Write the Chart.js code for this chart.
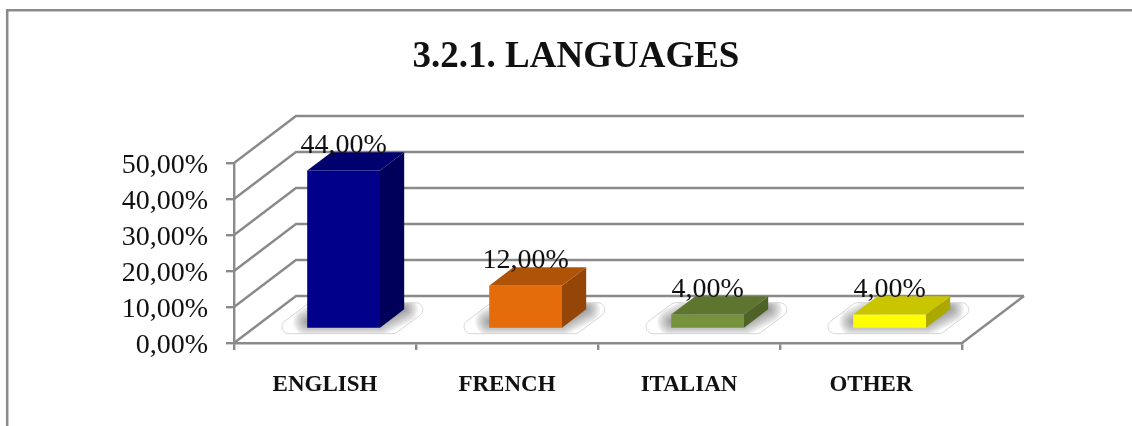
<!DOCTYPE html>
<html>
<head>
<meta charset="utf-8">
<style>
html,body{margin:0;padding:0;background:#fff;}
#wrap{position:relative;width:1132px;height:426px;}
canvas{display:block;}
</style>
<script src="https://cdn.jsdelivr.net/npm/chart.js@4/dist/chart.umd.min.js"></script>
</head>
<body>
<div id="wrap"><canvas id="c" width="1132" height="426"></canvas></div>
<script>
const titleText = "3.2.1. LANGUAGES";
const categories = ["ENGLISH", "FRENCH", "ITALIAN", "OTHER"];
const values = [44, 12, 4, 4];
const valueLabels = ["44,00%", "12,00%", "4,00%", "4,00%"];
const frontColors = ["#00008B", "#E46C0A", "#76923C", "#FFFF00"];
const topColors = ["#00006F", "#AF5308", "#5E752F", "#C9C600"];
const sideColors = ["#00005A", "#954506", "#4F6228", "#ABA900"];
const yTickValues = [0, 10, 20, 30, 40, 50];
const yTickLabels = ["0,00%", "10,00%", "20,00%", "30,00%", "40,00%", "50,00%"];

const FONT = "'Liberation Serif', serif";
const LINE = "#8a8a8a";
const DEPTH = {dx: 62, dy: -47};
const BAR_NEAR = 0.3, BAR_DEPTH = 0.39;

function poly(ctx, pts){
  ctx.beginPath();
  pts.forEach((p,i)=> i ? ctx.lineTo(p[0],p[1]) : ctx.moveTo(p[0],p[1]));
  ctx.closePath();
}
function roundPoly(ctx, pts, r){
  ctx.beginPath();
  const n = pts.length;
  const a = pts[n-1], b = pts[0];
  ctx.moveTo((a[0]+b[0])/2,(a[1]+b[1])/2);
  for(let i=0;i<n;i++){
    const p = pts[i], q = pts[(i+1)%n];
    ctx.arcTo(p[0],p[1],q[0],q[1],r);
  }
  ctx.closePath();
}

const threeD = {
  id: "threeD",
  beforeDraw(chart){
    const ctx = chart.ctx;
    ctx.save();
    ctx.fillStyle = "#fff";
    ctx.fillRect(0,0,chart.width,chart.height);
    ctx.strokeStyle = LINE;
    ctx.lineWidth = 2.5;
    ctx.beginPath();
    ctx.moveTo(7.2,chart.height);
    ctx.lineTo(7.2,10.2);
    ctx.lineTo(chart.width,10.2);
    ctx.stroke();
    ctx.restore();
  },
  beforeDatasetsDraw(chart){
    const ctx = chart.ctx, y = chart.scales.y, x = chart.scales.x;
    const l = x.left, r = x.right, b = y.getPixelForValue(0);
    ctx.save();
    ctx.strokeStyle = LINE;
    ctx.lineWidth = 2.4;
    yTickValues.forEach(v=>{
      const py = y.getPixelForValue(v);
      ctx.beginPath();
      ctx.moveTo(l,py);
      ctx.lineTo(l+DEPTH.dx,py+DEPTH.dy);
      ctx.lineTo(r+DEPTH.dx,py+DEPTH.dy);
      ctx.stroke();
    });
    ctx.beginPath();
    ctx.moveTo(r,b);
    ctx.lineTo(r+DEPTH.dx,b+DEPTH.dy);
    ctx.stroke();
    ctx.restore();
  },
  beforeDatasetDraw(chart, args){
    const ctx = chart.ctx;
    const nx = DEPTH.dx*BAR_NEAR, ny = DEPTH.dy*BAR_NEAR;
    const ddx = DEPTH.dx*BAR_DEPTH, ddy = DEPTH.dy*BAR_DEPTH;
    args.meta.data.forEach((el,i)=>{
      const fl = el.x-el.width/2+nx, fr = el.x+el.width/2+nx;
      const top = el.y+ny, bot = el.base+ny;
      const outline = [[fl-39,bot+6],[fr+15,bot+6],[fr+57,bot-25],[fl+2,bot-25]];
      ctx.save();
      roundPoly(ctx,outline,7);
      ctx.fillStyle="#fff";
      ctx.fill();
      ctx.save();
      ctx.clip();
      ctx.strokeStyle="rgba(50,50,50,0.06)";
      ctx.lineJoin="round";
      poly(ctx,[[fl,bot-6],[fr,bot-6],[fr+ddx,bot+ddy],[fl+ddx,bot+ddy]]);
      for(let w=28;w>=2;w-=3){
        ctx.lineWidth=w;
        ctx.stroke();
      }
      ctx.restore();
      roundPoly(ctx,outline,7);
      ctx.strokeStyle="#d6d6d6";
      ctx.lineWidth=1;
      ctx.stroke();
      ctx.fillStyle=sideColors[i];
      poly(ctx,[[fr,top],[fr+ddx,top+ddy],[fr+ddx,bot+ddy],[fr,bot]]);
      ctx.fill();
      ctx.fillStyle=topColors[i];
      poly(ctx,[[fl,top],[fl+ddx,top+ddy],[fr+ddx,top+ddy],[fr,top]]);
      ctx.fill();
      ctx.restore();
    });
    ctx.save();
    ctx.translate(nx,ny);
  },
  afterDatasetDraw(chart){
    chart.ctx.restore();
  },
  afterDatasetsDraw(chart){
    const ctx = chart.ctx;
    const nx = DEPTH.dx*BAR_NEAR, ny = DEPTH.dy*BAR_NEAR;
    const meta = chart.getDatasetMeta(0);
    ctx.save();
    ctx.font = "28px "+FONT;
    ctx.fillStyle="#111";
    ctx.textAlign="center";
    ctx.textBaseline="alphabetic";
    meta.data.forEach((el,i)=>{
      ctx.fillText(valueLabels[i],el.x+nx,el.y+ny-17.5);
    });
    ctx.restore();
  }
};

new Chart(document.getElementById("c"),{
  type:"bar",
  data:{labels:categories,datasets:[{
    data:values,
    backgroundColor:frontColors,
    borderWidth:0,
    barPercentage:0.4,
    categoryPercentage:1,
    clip:false
  }]},
  plugins:[threeD],
  options:{
    responsive:false,
    animation:false,
    layout:{padding:{left:20,right:0,top:0,bottom:0}},
    plugins:{
      legend:{display:false},
      tooltip:{enabled:false},
      title:{
        display:true,
        text:titleText,
        color:"#111",
        font:{family:FONT,size:37,weight:"bold",lineHeight:1.2},
        padding:{top:35.4,bottom:83.2}
      }
    },
    scales:{
      x:{
        afterFit(s){s.height=83;},
        grid:{display:true,drawOnChartArea:false,color:LINE,lineWidth:2.4,tickLength:7,offset:true},
        border:{display:true,color:LINE,width:2.4},
        ticks:{autoSkip:false,maxRotation:0,padding:21,color:"#111",font:{family:FONT,size:23,weight:"bold"}}
      },
      y:{
        min:0,max:50,
        afterFit(s){s.width=214;},
        afterBuildTicks(s){s.ticks=yTickValues.map(v=>({value:v}));},
        grid:{display:true,drawOnChartArea:false,color:LINE,lineWidth:2.4,tickLength:8},
        border:{display:true,color:LINE,width:2.4},
        ticks:{autoSkip:false,padding:18,labelOffset:3,color:"#111",font:{family:FONT,size:28},
          callback(v){return yTickLabels[yTickValues.indexOf(v)];}}
      },
      rightSpace:{
        type:"linear",
        position:"right",
        display:true,
        afterFit(s){s.width=170;},
        grid:{display:false},
        border:{display:false},
        ticks:{display:false}
      }
    }
  }
});
</script>
</body>
</html>
